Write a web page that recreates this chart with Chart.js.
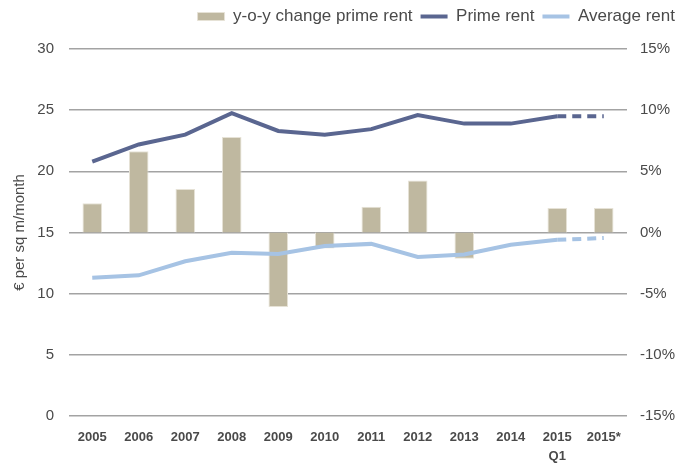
<!DOCTYPE html>
<html>
<head>
<meta charset="utf-8">
<script src="https://cdn.jsdelivr.net/npm/chart.js@4"></script>
<style>
  html, body { margin: 0; padding: 0; background: #fff; }
  #wrap { width: 693px; height: 466px; }
</style>
</head>
<body>
<div id="wrap"><canvas id="rentChart"></canvas></div>
<script>
// Rent data (left axis: € per sq m/month, right axis: y-o-y %)
const years = ['2005', '2006', '2007', '2008', '2009', '2010', '2011', '2012', '2013', '2014', ['2015', 'Q1'], '2015*'];
const yoyChange = [2.4, 6.65, 3.55, 7.8, -6.1, -1.3, 2.1, 4.25, -2.15, 0, 2.0, 2.0];
const primeRent = [20.8, 22.2, 23.0, 24.75, 23.3, 23.0, 23.45, 24.6, 23.9, 23.9, 24.5, 24.5];
const averageRent = [11.3, 11.5, 12.65, 13.35, 13.25, 13.9, 14.07, 13.0, 13.2, 14.0, 14.4, 14.55];
const leftTicks = [0, 5, 10, 15, 20, 25, 30];
const rightTicks = [-15, -10, -5, 0, 5, 10, 15];

const fontFamily = "'Liberation Sans', Arial, sans-serif";
const textColor = '#4a4a4a';

// dash the forecast segment (2015 Q1 -> 2015*)
const lastIdx = years.length - 1;
const dashForecast = {
    borderDash: ctx => ctx.p1DataIndex === lastIdx ? [9, 6] : undefined
};

// extra space between legend and plot
const legendGap = {
    id: 'legendGap',
    beforeInit(chart) {
        const fit = chart.legend.fit;
        chart.legend.fit = function () {
            fit.bind(chart.legend)();
            this.height += 14;
        };
    }
};

const ctx = document.getElementById('rentChart');
new Chart(ctx, {
    type: 'bar',
    plugins: [legendGap],
    data: {
        labels: years,
        datasets: [
            {
                type: 'bar',
                label: 'y-o-y change prime rent',
                data: yoyChange,
                yAxisID: 'yRight',
                backgroundColor: '#BFB8A0',
                borderColor: '#E6E2D6',
                borderWidth: 1,
                barPercentage: 0.42,
                categoryPercentage: 1,
                pointStyle: 'rect',
                order: 3
            },
            {
                type: 'line',
                label: 'Prime rent',
                data: primeRent,
                yAxisID: 'yLeft',
                borderColor: '#5A6690',
                backgroundColor: '#5A6690',
                borderWidth: 4,
                pointRadius: 0,
                pointStyle: 'line',
                tension: 0,
                segment: dashForecast,
                order: 1
            },
            {
                type: 'line',
                label: 'Average rent',
                data: averageRent,
                yAxisID: 'yLeft',
                borderColor: '#A6C3E4',
                backgroundColor: '#A6C3E4',
                borderWidth: 4,
                pointRadius: 0,
                pointStyle: 'line',
                tension: 0,
                segment: dashForecast,
                order: 2
            }
        ]
    },
    options: {
        responsive: true,
        maintainAspectRatio: false,
        animation: false,
        layout: {
            padding: { left: 7, right: 10, top: 0, bottom: 1 }
        },
        plugins: {
            legend: {
                position: 'top',
                align: 'end',
                labels: {
                    usePointStyle: true,
                    pointStyleWidth: 27,
                    boxHeight: 8,
                    padding: 8,
                    color: textColor,
                    font: { family: fontFamily, size: 17 },
                    sort: (a, b) => a.datasetIndex - b.datasetIndex
                }
            },
            tooltip: { enabled: false }
        },
        scales: {
            x: {
                afterFit: axis => { axis.height = 49; },
                grid: { display: false, drawTicks: false },
                border: { display: false },
                ticks: {
                    color: textColor,
                    maxRotation: 0,
                    autoSkip: false,
                    padding: 12,
                    font: { family: fontFamily, size: 13, weight: 'bold', lineHeight: 1.45 }
                }
            },
            yLeft: {
                position: 'left',
                min: 0,
                max: 30,
                afterFit: axis => { axis.width = 62; },
                afterBuildTicks: axis => { axis.ticks = leftTicks.map(v => ({ value: v })); },
                grid: { color: '#A3A3A3', lineWidth: 1.5, drawTicks: false },
                border: { display: false },
                ticks: {
                    color: textColor,
                    padding: 15,
                    font: { family: fontFamily, size: 15 }
                },
                title: {
                    display: true,
                    text: '€ per sq m/month',
                    color: textColor,
                    padding: { top: 4, bottom: 8 },
                    font: { family: fontFamily, size: 15 }
                }
            },
            yRight: {
                position: 'right',
                min: -15,
                max: 15,
                afterFit: axis => { axis.width = 56; },
                afterBuildTicks: axis => { axis.ticks = rightTicks.map(v => ({ value: v })); },
                grid: { display: false, drawTicks: false },
                border: { display: false },
                ticks: {
                    color: textColor,
                    padding: 13,
                    font: { family: fontFamily, size: 15 },
                    callback: v => v + '%'
                }
            }
        }
    }
});
</script>
</body>
</html>
